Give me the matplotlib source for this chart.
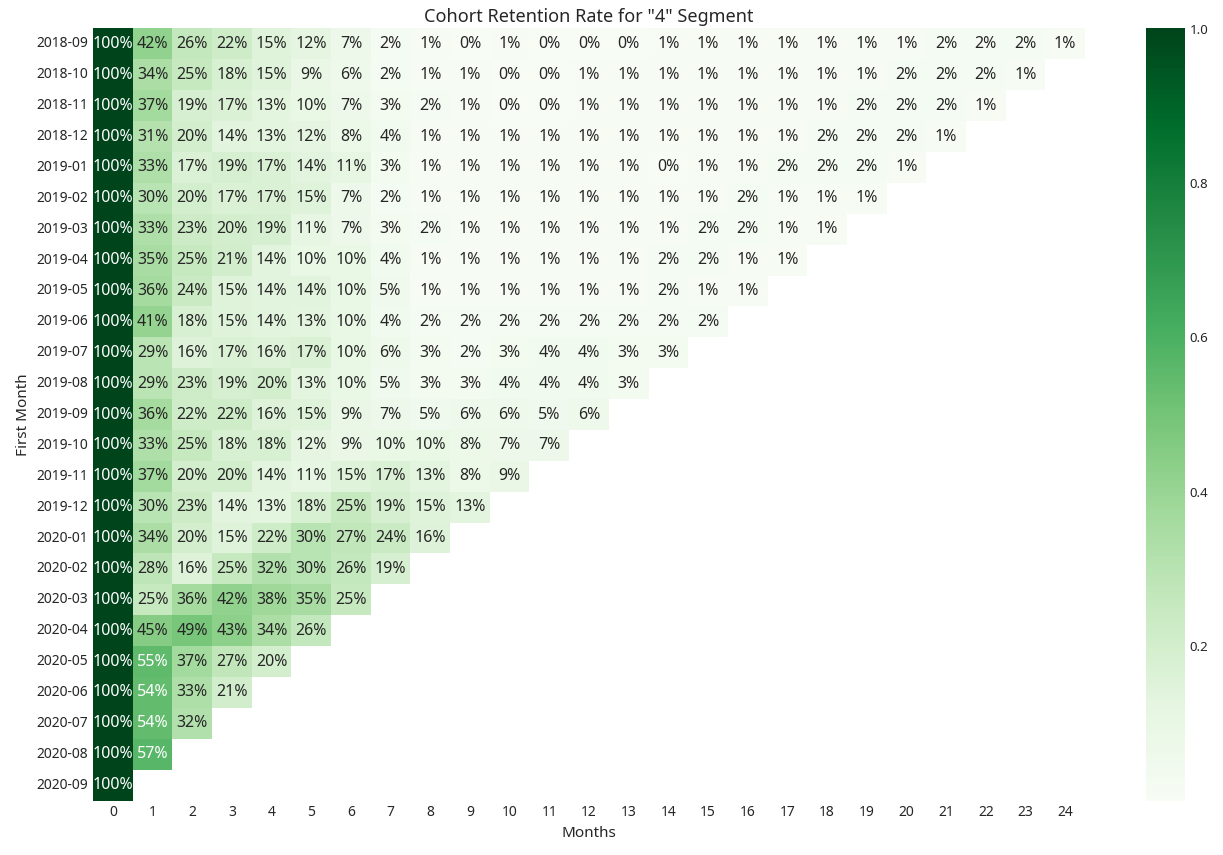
import numpy as np
import pandas as pd
import matplotlib
matplotlib.use("Agg")
import matplotlib.pyplot as plt
import seaborn as sns

# cohort labels (first purchase month)
cohorts = ['2018-09', '2018-10', '2018-11', '2018-12', '2019-01', '2019-02', '2019-03',
           '2019-04', '2019-05', '2019-06', '2019-07', '2019-08', '2019-09', '2019-10',
           '2019-11', '2019-12', '2020-01', '2020-02', '2020-03', '2020-04', '2020-05',
           '2020-06', '2020-07', '2020-08', '2020-09']
months = list(range(25))

# retention (%) per cohort
r_2018_09 = [100, 42, 26, 22, 15, 12, 7, 2, 1, 0, 1, 0, 0, 0, 1, 1, 1, 1, 1, 1, 1, 2, 2, 2, 1]
r_2018_10 = [100, 34, 25, 18, 15, 9, 6, 2, 1, 1, 0, 0, 1, 1, 1, 1, 1, 1, 1, 1, 2, 2, 2, 1]
r_2018_11 = [100, 37, 19, 17, 13, 10, 7, 3, 2, 1, 0, 0, 1, 1, 1, 1, 1, 1, 1, 2, 2, 2, 1]
r_2018_12 = [100, 31, 20, 14, 13, 12, 8, 4, 1, 1, 1, 1, 1, 1, 1, 1, 1, 1, 2, 2, 2, 1]
r_2019_01 = [100, 33, 17, 19, 17, 14, 11, 3, 1, 1, 1, 1, 1, 1, 0, 1, 1, 2, 2, 2, 1]
r_2019_02 = [100, 30, 20, 17, 17, 15, 7, 2, 1, 1, 1, 1, 1, 1, 1, 1, 2, 1, 1, 1]
r_2019_03 = [100, 33, 23, 20, 19, 11, 7, 3, 2, 1, 1, 1, 1, 1, 1, 2, 2, 1, 1]
r_2019_04 = [100, 35, 25, 21, 14, 10, 10, 4, 1, 1, 1, 1, 1, 1, 2, 2, 1, 1]
r_2019_05 = [100, 36, 24, 15, 14, 14, 10, 5, 1, 1, 1, 1, 1, 1, 2, 1, 1]
r_2019_06 = [100, 41, 18, 15, 14, 13, 10, 4, 2, 2, 2, 2, 2, 2, 2, 2]
r_2019_07 = [100, 29, 16, 17, 16, 17, 10, 6, 3, 2, 3, 4, 4, 3, 3]
r_2019_08 = [100, 29, 23, 19, 20, 13, 10, 5, 3, 3, 4, 4, 4, 3]
r_2019_09 = [100, 36, 22, 22, 16, 15, 9, 7, 5, 6, 6, 5, 6]
r_2019_10 = [100, 33, 25, 18, 18, 12, 9, 10, 10, 8, 7, 7]
r_2019_11 = [100, 37, 20, 20, 14, 11, 15, 17, 13, 8, 9]
r_2019_12 = [100, 30, 23, 14, 13, 18, 25, 19, 15, 13]
r_2020_01 = [100, 34, 20, 15, 22, 30, 27, 24, 16]
r_2020_02 = [100, 28, 16, 25, 32, 30, 26, 19]
r_2020_03 = [100, 25, 36, 42, 38, 35, 25]
r_2020_04 = [100, 45, 49, 43, 34, 26]
r_2020_05 = [100, 55, 37, 27, 20]
r_2020_06 = [100, 54, 33, 21]
r_2020_07 = [100, 54, 32]
r_2020_08 = [100, 57]
r_2020_09 = [100]

rows = [r_2018_09, r_2018_10, r_2018_11, r_2018_12, r_2019_01, r_2019_02, r_2019_03,
        r_2019_04, r_2019_05, r_2019_06, r_2019_07, r_2019_08, r_2019_09, r_2019_10,
        r_2019_11, r_2019_12, r_2020_01, r_2020_02, r_2020_03, r_2020_04, r_2020_05,
        r_2020_06, r_2020_07, r_2020_08, r_2020_09]

mat = np.full((len(cohorts), len(months)), np.nan)
for i, r in enumerate(rows):
    mat[i, :len(r)] = np.array(r) / 100.0
retention = pd.DataFrame(mat, index=cohorts, columns=months)

sns.set_style('white')
plt.rcParams['font.family'] = ['Noto Sans', 'DejaVu Sans']

fig = plt.figure(figsize=(12.23, 8.55), dpi=100)
W, H = 1223, 855
ax = fig.add_axes([93 / W, 1 - 800.5 / H, 992 / W, 772 / H])
cax = fig.add_axes([1146 / W, 1 - 800.5 / H, 39 / W, 772 / H])

sns.heatmap(retention, annot=True, fmt='.0%', cmap='Greens', ax=ax, cbar_ax=cax,
            annot_kws={'fontsize': 11.5})
ax.set_title('Cohort Retention Rate for "4" Segment', fontsize=13, pad=5)
ax.set_xlabel('Months', fontsize=11)
ax.set_ylabel('First Month', fontsize=11)
ax.tick_params(axis='both', labelsize=10, length=0)
ax.set_yticklabels(cohorts, rotation=0)
cax.tick_params(labelsize=9.5, length=0)
cax.set_yticks([0.2, 0.4, 0.6, 0.8, 1.0])

fig.savefig('out.png', dpi=100)
